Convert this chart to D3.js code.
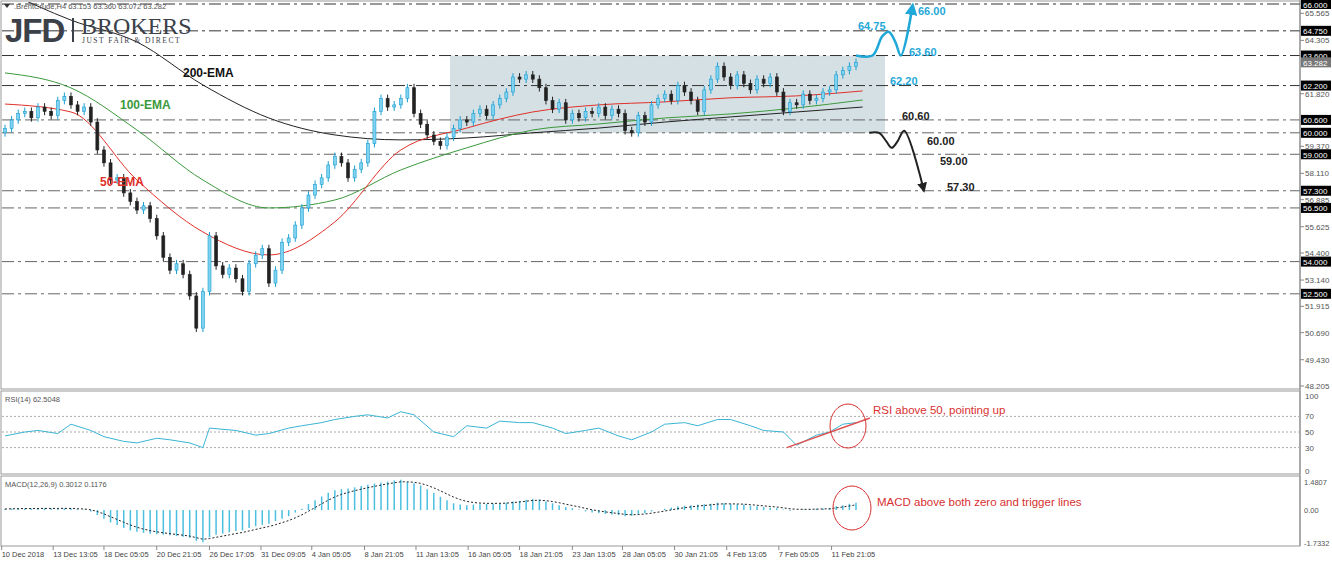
<!DOCTYPE html>
<html><head><meta charset="utf-8">
<script src="https://cdn.jsdelivr.net/npm/d3@7"></script>
<style>body{margin:0;background:#fff}svg{font-family:"Liberation Sans",Arial,sans-serif}</style>
</head><body><svg id="c" width="1332" height="565"></svg>
<script>
const closes=[60.2,60.6,60.9,61.0,60.7,61.2,61.0,60.8,61.5,61.7,
61.3,61.0,61.2,60.5,59.2,58.6,57.8,57.9,57.2,56.8,
56.4,56.6,56.0,55.2,54.2,53.6,53.9,53.4,52.4,50.9,
52.6,55.2,53.8,53.4,53.7,53.2,52.6,53.9,54.3,54.6,
53.0,53.6,54.9,55.1,55.7,56.5,57.1,57.6,57.9,58.5,
58.9,58.6,57.9,58.3,58.6,59.5,61.0,61.6,61.2,61.3,
61.6,62.1,60.9,60.4,59.9,59.6,59.4,59.8,60.2,60.6,
60.5,60.9,61.1,60.8,61.3,61.6,61.9,62.6,62.5,62.7,
62.5,62.1,61.5,61.1,61.4,60.6,60.9,60.7,61.0,60.9,
61.2,60.8,61.1,60.9,60.1,60.0,60.8,60.5,61.3,61.6,
61.8,61.5,62.2,61.9,61.5,61.0,62.0,62.5,63.1,62.6,
62.2,62.7,62.3,62.0,62.5,62.3,62.6,61.9,61.0,61.4,
61.3,61.8,61.5,61.6,61.9,62.0,62.7,62.9,63.1,63.28];
const emaIdx=[0,10,20,30,40,50,60,70,80,90,100,110,120,130];
const ema50=[61.34,60.97,57.8,55.38,54.31,55.85,59.2,60.22,60.97,61.3,61.44,61.63,61.72,61.95];
const ema100=[62.79,62.09,60.13,57.8,56.5,56.87,58.27,59.3,60.13,60.41,60.69,60.88,61.16,61.53];
const ema200=[66.6,65.25,64.23,62.23,60.69,59.9,59.67,59.76,60.0,60.22,60.5,60.74,60.97,61.2];
const rsiIdx=[0,3,5,8,10,13,15,18,20,23,25,28,30,31,35,38,40,43,45,48,50,53,55,58,60,62,65,68,70,73,75,78,80,83,85,88,90,93,95,98,100,103,105,108,110,113,115,118,120,123,125,127,129];
const rsi=[45,50,52,48,60,52,44,38,36,42,40,36,30,55,52,46,48,55,58,62,66,70,72,68,76,72,50,44,58,55,64,62,62,55,48,52,55,45,40,50,60,62,58,66,66,58,52,50,33,46,50,60,62];
const macd=[0.06,0.08,0.1,0.09,0.08,0.09,0.1,0.08,0.09,0.1,
0.08,0.05,0.03,-0.07,-0.26,-0.45,-0.65,-0.78,-0.94,-1.07,
-1.14,-1.2,-1.24,-1.27,-1.3,-1.33,-1.37,-1.4,-1.46,-1.62,
-1.7,-1.43,-1.3,-1.24,-1.17,-1.1,-1.07,-0.94,-0.85,-0.78,
-0.72,-0.58,-0.45,-0.32,-0.13,0.07,0.32,0.52,0.72,0.91,
1.04,1.1,1.14,1.2,1.27,1.33,1.4,1.45,1.5,1.56,
1.6,1.48,1.42,1.3,1.1,0.9,0.7,0.52,0.36,0.29,
0.26,0.29,0.31,0.33,0.35,0.36,0.39,0.45,0.49,0.55,
0.58,0.55,0.45,0.36,0.26,0.16,0.1,0.03,-0.07,-0.13,
-0.16,-0.2,-0.23,-0.26,-0.32,-0.29,-0.2,-0.16,-0.07,0.0,
0.07,0.13,0.2,0.23,0.26,0.29,0.31,0.34,0.39,0.36,
0.33,0.31,0.29,0.23,0.2,0.16,0.13,0.1,0.03,-0.03,
0.0,0.03,0.04,0.07,0.08,0.1,0.2,0.26,0.33,0.39];
const levels=[66,64.75,63.6,62.2,60.6,60,59,57.3,56.5,54,52.5];
const darkLevels=[66,64.75,63.6,62.2];
const priceTicks=[65.565,64.305,61.820,59.370,58.110,56.885,55.625,54.400,53.140,51.915,50.690,49.430,48.205];
const dateLabels=["10 Dec 2018","13 Dec 13:05","18 Dec 05:05","20 Dec 21:05","26 Dec 17:05","31 Dec 09:05","4 Jan 05:05","8 Jan 21:05","11 Jan 13:05","16 Jan 05:05","18 Jan 21:05","23 Jan 13:05","28 Jan 05:05","30 Jan 21:05","4 Feb 13:05","7 Feb 05:05","11 Feb 21:05"];
const dateIdx=[-0.5,7.3,15,23,31,38.8,46.5,54.5,62.3,70.2,78,86,93.6,101.5,109.4,117.3,125.3];
const rangeBox=[63.6,60.0];
const bullPath=[[129,63.6],[131.5,63.6],[133.0,64.5],[134.0,64.7],[135.0,64.2],[135.8,63.6],[137.6,65.95]];
const bearPath=[[131,60.0],[132.5,60.0],[133.6,59.6],[134.4,59.3],[135.3,59.6],[136.3,60.1],[139.3,57.3]];
const svg=d3.select("#c");
const x=d3.scaleLinear().domain([0,129]).range([5,856]);
const y=d3.scaleLinear().domain([66,48.205]).range([4,386]);
const yr=d3.scaleLinear().domain([0,100]).range([471,393]);
const ym=d3.scaleLinear().domain([-1.7332,1.4807]).range([543,482]);
const R=1300;
svg.append("defs").html('<clipPath id="cm"><rect x="2" y="2" width="1298" height="386"/></clipPath><marker id="ab" viewBox="0 0 10 10" refX="8" refY="5" markerWidth="5" markerHeight="5" orient="auto"><path d="M0,0L10,5L0,10z" fill="#1fa8d8"/></marker><marker id="ak" viewBox="0 0 10 10" refX="8" refY="5" markerWidth="5" markerHeight="5" orient="auto"><path d="M0,0L10,5L0,10z" fill="#222"/></marker>');
svg.append("rect").attr("x",1).attr("y",1).attr("width",R-1).attr("height",388).attr("fill","none").attr("stroke","#999");
svg.append("rect").attr("x",1).attr("y",391).attr("width",R-1).attr("height",83).attr("fill","none").attr("stroke","#999");
svg.append("rect").attr("x",1).attr("y",476).attr("width",R-1).attr("height",70).attr("fill","none").attr("stroke","#999");
const m=svg.append("g").attr("clip-path","url(#cm)");
m.append("rect").attr("x",450).attr("y",y(rangeBox[0])).attr("width",435).attr("height",y(rangeBox[1])-y(rangeBox[0])).attr("fill","#d5e0e4");
levels.forEach(l=>m.append("line").attr("x1",2).attr("x2",R).attr("y1",y(l)).attr("y2",y(l)).attr("stroke",darkLevels.includes(l)?"#333":"#666").attr("stroke-dasharray","12,4,3,4").attr("stroke-width",1));
const ln=d3.line().x(d=>x(d[0])).y(d=>y(d[1])).curve(d3.curveMonotoneX);
m.append("path").attr("d",ln(emaIdx.map((d,i)=>[d,ema200[i]]))).attr("fill","none").attr("stroke","#222");
m.append("path").attr("d",ln(emaIdx.map((d,i)=>[d,ema100[i]]))).attr("fill","none").attr("stroke","#3c9a3c");
m.append("path").attr("d",ln(emaIdx.map((d,i)=>[d,ema50[i]]))).attr("fill","none").attr("stroke","#e0302a");
closes.forEach((c,i)=>{const o=i?closes[i-1]:c-0.2;const up=c>=o;const hi=Math.max(o,c)+0.18,lo=Math.min(o,c)-0.18;
 m.append("line").attr("x1",x(i)).attr("x2",x(i)).attr("y1",y(hi)).attr("y2",y(lo)).attr("stroke",up?"#1a9ed1":"#222");
 m.append("rect").attr("x",x(i)-1.5).attr("width",3).attr("y",y(Math.max(o,c))).attr("height",Math.max(1,y(Math.min(o,c))-y(Math.max(o,c)))).attr("fill",up?"#7fd3f0":"#222").attr("stroke",up?"#1a9ed1":"#222").attr("stroke-width",0.6);});
const al=d3.line().x(d=>x(d[0])).y(d=>y(d[1])).curve(d3.curveCatmullRom);
svg.append("path").attr("d",al(bullPath)).attr("fill","none").attr("stroke","#1fa8d8").attr("stroke-width",2.5).attr("marker-end","url(#ab)");
svg.append("path").attr("d",al(bearPath)).attr("fill","none").attr("stroke","#222").attr("stroke-width",2).attr("marker-end","url(#ak)");
const lab=(t,xx,yy,c,s=11)=>svg.append("text").attr("x",xx).attr("y",yy).attr("fill",c).attr("font-size",s).attr("font-weight","bold").text(t);
lab("64.75",858,30,"#1fa8d8");lab("66.00",918,15,"#1fa8d8");lab("63.60",909,56,"#1fa8d8");lab("62.20",890,85,"#1fa8d8");
lab("60.60",902,120,"#222");lab("60.00",927,145,"#222");lab("59.00",940,165,"#222");lab("57.30",947,191,"#222");
lab("200-EMA",183,77,"#111",12);lab("100-EMA",120,109,"#3c9a3c",12);lab("50-EMA",100,186,"#e0302a",12);
svg.append("path").attr("d","M4,4l6,0l-3,4z").attr("fill","#333");
svg.append("text").attr("x",14).attr("y",9).attr("font-size",7.5).attr("fill","#555").text(".BrentCrude,H4  63.153 63.360 63.072 63.282");
svg.append("text").attr("x",5).attr("y",42).attr("font-size",33).attr("font-weight","bold").attr("fill","#3b4049").attr("letter-spacing",-1).text("JFD");
svg.append("rect").attr("x",72).attr("y",18).attr("width",2).attr("height",24).attr("fill","#3b4049");
svg.append("text").attr("x",81).attr("y",34).attr("font-size",24).attr("font-family","Liberation Serif,serif").attr("fill","#3b4049").text("BROKERS");
svg.append("text").attr("x",82).attr("y",42.5).attr("font-size",7.5).attr("font-family","Liberation Serif,serif").attr("fill","#3b4049").attr("letter-spacing",1.5).text("JUST FAIR & DIRECT");
svg.append("line").attr("x1",R).attr("x2",R).attr("y1",0).attr("y2",546).attr("stroke","#888");
priceTicks.forEach(p=>{svg.append("line").attr("x1",R).attr("x2",R+4).attr("y1",y(p)).attr("y2",y(p)).attr("stroke","#888");
 svg.append("text").attr("x",R+5).attr("y",y(p)+3).attr("font-size",8).attr("fill","#555").text(p.toFixed(3));});
const box=(v,t,bg)=>{svg.append("rect").attr("x",R+1).attr("y",y(v)-5).attr("width",30).attr("height",10).attr("fill",bg);
 svg.append("text").attr("x",R+3).attr("y",y(v)+3.5).attr("font-size",8).attr("fill","#fff").text(t);};
levels.forEach(l=>box(l,l.toFixed(3),"#000"));
box(63.282,"63.282","#777");
svg.append("text").attr("x",5).attr("y",402).attr("font-size",7.5).attr("fill","#555").text("RSI(14) 62.5048");
[70,50,30].forEach(v=>svg.append("line").attr("x1",2).attr("x2",R).attr("y1",yr(v)).attr("y2",yr(v)).attr("stroke","#aaa").attr("stroke-dasharray","2,2"));
[100,70,50,30,0].forEach(v=>svg.append("text").attr("x",R+5).attr("y",v===100?yr(v)+6:yr(v)+3).attr("font-size",8).attr("fill","#555").text(v));
svg.append("path").attr("d",d3.line().x(d=>x(d[0])).y(d=>yr(d[1]))(rsiIdx.map((d,i)=>[d,rsi[i]]))).attr("fill","none").attr("stroke","#3bb5d5");
svg.append("line").attr("x1",x(118.5)).attr("y1",yr(30)).attr("x2",870).attr("y2",yr(68)).attr("stroke","#e05050").attr("stroke-width",1.5);
svg.append("ellipse").attr("cx",848).attr("cy",426).attr("rx",18).attr("ry",22).attr("fill","none").attr("stroke","#d83030");
svg.append("text").attr("x",873).attr("y",414).attr("font-size",11.5).attr("fill","#d83030").text("RSI above 50, pointing up");
svg.append("text").attr("x",5).attr("y",487).attr("font-size",7.5).attr("fill","#555").text("MACD(12,26,9) 0.3012 0.1176");
macd.forEach((v,i)=>svg.append("line").attr("x1",x(i)).attr("x2",x(i)).attr("y1",ym(0)).attr("y2",ym(v)).attr("stroke","#4bbfe0").attr("stroke-width",1.5));
const sig=[];macd.forEach((v,i)=>sig.push(i?sig[i-1]+(v-sig[i-1])/3:v));
svg.append("path").attr("d",d3.line().x((d,i)=>x(i)).y(d=>ym(d))(sig)).attr("fill","none").attr("stroke","#222").attr("stroke-dasharray","2,2");
[[1.4807,"1.4807"],[0,"0.00"],[-1.7332,"-1.7332"]].forEach(([v,t])=>svg.append("text").attr("x",R+4).attr("y",ym(v)+3).attr("font-size",7.5).attr("fill","#555").text(t));
svg.append("ellipse").attr("cx",852).attr("cy",508).attr("rx",19).attr("ry",22).attr("fill","none").attr("stroke","#d83030");
svg.append("text").attr("x",877).attr("y",506).attr("font-size",11.5).attr("fill","#d83030").text("MACD above both zero and trigger lines");
dateLabels.forEach((t,i)=>{const xx=x(dateIdx[i]);svg.append("line").attr("x1",xx).attr("x2",xx).attr("y1",546).attr("y2",550).attr("stroke","#888");
 svg.append("text").attr("x",xx).attr("y",557).attr("font-size",7.5).attr("fill","#444").text(t);});
</script></body></html>
